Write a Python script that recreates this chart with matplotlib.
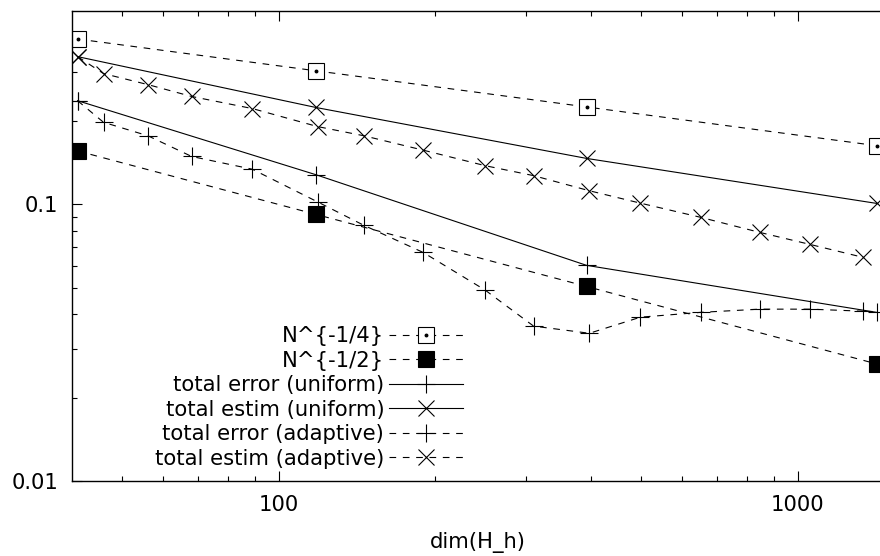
import matplotlib.pyplot as plt
from matplotlib.ticker import FixedLocator, NullFormatter, FuncFormatter
from matplotlib.legend_handler import HandlerTuple

# ---------------------------
# data
# ---------------------------
# uniform refinement
dim_unif = [41, 118, 392, 1420]
ref_quarter = [0.396, 0.304, 0.225, 0.163]   # N^{-1/4}
ref_half = [0.156, 0.092, 0.0505, 0.0265]    # N^{-1/2}
err_unif = [0.237, 0.128, 0.0602, 0.0407]
est_unif = [0.342, 0.224, 0.1466, 0.1008]

# adaptive refinement
dim_adapt = [41, 46, 56, 68, 89, 119, 146, 190, 250, 310, 397, 498, 650, 845, 1055, 1334]
err_adapt = [0.237, 0.198, 0.177, 0.149, 0.134, 0.102, 0.084, 0.067, 0.049, 0.0363,
             0.0342, 0.0391, 0.0407, 0.0418, 0.0418, 0.0411]
est_adapt = [0.342, 0.297, 0.271, 0.2455, 0.222, 0.191, 0.177, 0.157, 0.138, 0.127,
             0.112, 0.101, 0.0898, 0.0792, 0.0717, 0.0644]

labels = ["N^{-1/4}", "N^{-1/2}", "total error (uniform)", "total estim (uniform)",
          "total error (adaptive)", "total estim (adaptive)"]

plt.rcParams['font.family'] = ['DejaVu Sans']
plt.rcParams['font.size'] = 15.2

fig = plt.figure(figsize=(8.8, 5.56), dpi=100)
ax = fig.add_axes([72 / 880, 1 - 481 / 556, (884 - 72) / 880, 470 / 556])

lw = 0.8
dash = (0, (6, 6))
ms = 12

h1 = ax.plot(dim_unif, ref_quarter, color="black", lw=lw, ls=dash, marker="s",
             ms=ms, mfc="white", mec="black", mew=lw)[0]
h1dot = ax.plot(dim_unif, ref_quarter, ls="none", marker="o", ms=1.8, color="black")[0]
h2 = ax.plot(dim_unif, ref_half, color="black", lw=lw, ls=dash, marker="s",
             ms=ms, mfc="black", mec="black", mew=lw)[0]
h3 = ax.plot(dim_unif, err_unif, color="black", lw=lw, ls="-", marker="+",
             ms=ms + 1, mew=lw)[0]
h4 = ax.plot(dim_unif, est_unif, color="black", lw=lw, ls="-", marker="x",
             ms=ms, mew=lw)[0]
h5 = ax.plot(dim_adapt, err_adapt, color="black", lw=lw, ls=dash, marker="+",
             ms=ms + 1, mew=lw)[0]
h6 = ax.plot(dim_adapt, est_adapt, color="black", lw=lw, ls=dash, marker="x",
             ms=ms, mew=lw)[0]

ax.set_xscale("log")
ax.set_yscale("log")
ax.set_xlim(40, 1467)
ax.set_ylim(0.01, 0.5)

ax.xaxis.set_major_locator(FixedLocator([100, 1000]))
ax.xaxis.set_minor_locator(FixedLocator([50, 60, 70, 80, 90, 200, 300, 400, 500,
                                         600, 700, 800, 900]))
ax.yaxis.set_major_locator(FixedLocator([0.01, 0.1]))
ax.yaxis.set_minor_locator(FixedLocator([0.02, 0.03, 0.04, 0.05, 0.06, 0.07, 0.08,
                                         0.09, 0.2, 0.3, 0.4]))
fmt = FuncFormatter(lambda v, p: f"{v:g}")
ax.xaxis.set_major_formatter(fmt)
ax.yaxis.set_major_formatter(fmt)
ax.xaxis.set_minor_formatter(NullFormatter())
ax.yaxis.set_minor_formatter(NullFormatter())

ax.tick_params(which="both", direction="in", top=True, right=False, width=0.8)
ax.tick_params(which="major", length=7.2, pad=10)
ax.tick_params(which="minor", length=3.6)
for s in ax.spines.values():
    s.set_linewidth(1.0)

ax.set_xlabel("dim(H_h)", labelpad=12)

leg = ax.legend([(h1, h1dot), h2, h3, h4, h5, h6], labels,
                handler_map={tuple: HandlerTuple(ndivide=1)},
                loc="lower right", bbox_to_anchor=((474 - 72) / 812, 0.004),
                frameon=False, markerfirst=False, borderpad=0,
                handlelength=3.55, handletextpad=0.2, labelspacing=0.21)

plt.savefig("out.png")
